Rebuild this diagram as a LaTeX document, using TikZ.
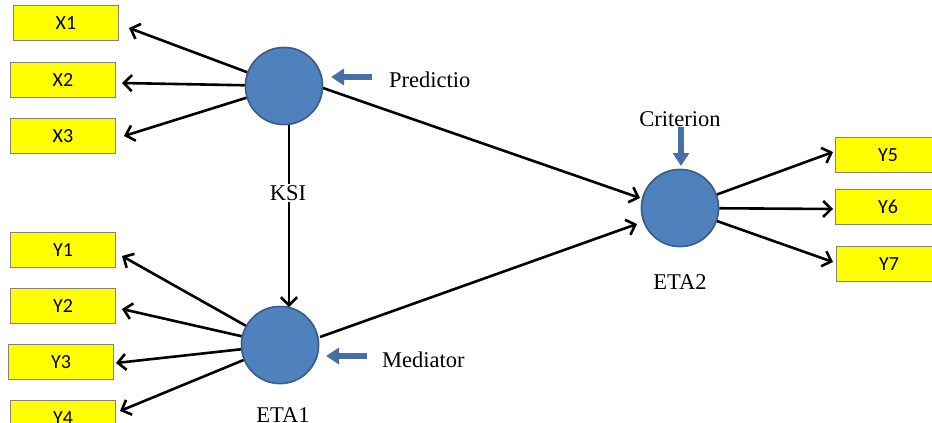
\documentclass[tikz,border=0pt]{standalone}
\usepackage{fontspec}
\setmainfont{Liberation Serif}
\newfontfamily\boxfont{Carlito}
\usetikzlibrary{arrows.meta}
\definecolor{boxyellow}{RGB}{255,255,0}
\definecolor{boxedge}{RGB}{130,130,120}
\definecolor{latfill}{RGB}{79,129,189}
\definecolor{latedge}{RGB}{56,93,138}
\definecolor{blockblue}{RGB}{70,112,165}
\tikzset{
  ind/.style={draw=boxedge, line width=1.2pt, fill=boxyellow, minimum width=105pt, minimum height=35pt, inner sep=0pt, font=\boxfont\fontsize{20}{20}\selectfont},
  lat/.style={circle, draw=latedge, line width=1.5pt, fill=latfill, minimum size=77pt, inner sep=0pt},
  lbl/.style={font=\fontsize{22.5}{22.5}\selectfont, inner sep=1pt},
  conn/.style={line width=2.6pt, -{Straight Barb[length=8pt, width=16pt, line width=2.6pt]}},
  blockarr/.style={draw=blockblue, line width=6pt, -{Triangle[length=13pt, width=16pt]}}
}
\begin{document}
\begin{tikzpicture}[x=1pt, y=-1pt]
\useasboundingbox (0,0) rectangle (932,423);
\clip (0,0) rectangle (932,423);
\fill[white] (0,0) rectangle (932,423);
% indicator boxes
\node[ind] (x1) at (66,23) {X1};
\node[ind] (x2) at (63,80) {X2};
\node[ind] (x3) at (63,136) {X3};
\node[ind] (y1) at (63,250) {Y1};
\node[ind] (y2) at (63,306) {Y2};
\node[ind] (y3) at (61,362) {Y3};
\node[ind] (y4) at (63,418) {Y4};
\node[ind] (y5) at (888,155) {Y5};
\node[ind] (y6) at (888,207) {Y6};
\node[ind] (y7) at (889,264) {Y7};
% latent variables
\node[lat] (ksi) at (284,86) {};
\node[lat] (eta1) at (280,345) {};
\node[lat] (eta2) at (680,208) {};
% arrow tips
\coordinate (tx1) at (129,28);
\coordinate (tx2) at (122,83);
\coordinate (tx3) at (124,136);
\coordinate (ty1) at (122,256);
\coordinate (ty2) at (122,309);
\coordinate (ty3) at (116,363);
\coordinate (ty4) at (120,411);
\coordinate (ty5) at (833,152);
\coordinate (ty6) at (833,209);
\coordinate (ty7) at (833,262);
\coordinate (ksiout) at (323,88);
\coordinate (eta1out) at (320,337);
\coordinate (tksi) at (640,198);
\coordinate (teta1) at (637,224);
\coordinate (ksibot) at (289,123);
\coordinate (teta1top) at (289,307);
% connectors
\draw[conn] (ksi) -- (tx1);
\draw[conn] (ksi) -- (tx2);
\draw[conn] (ksi) -- (tx3);
\draw[conn] (eta1) -- (ty1);
\draw[conn] (eta1) -- (ty2);
\draw[conn] (eta1) -- (ty3);
\draw[conn] (eta1) -- (ty4);
\draw[conn] (eta2) -- (ty5);
\draw[conn] (eta2) -- (ty6);
\draw[conn] (eta2) -- (ty7);
\draw[conn] (ksiout) -- (tksi);
\draw[conn] (eta1out) -- (teta1);
\draw[conn] (ksibot) -- (teta1top);
% redraw circles on top
\node[lat] at (ksi) {};
\node[lat] at (eta1) {};
\node[lat] at (eta2) {};
% block arrows
\coordinate (pa0) at (372,77);
\coordinate (pa1) at (331,77);
\coordinate (ma0) at (367,356);
\coordinate (ma1) at (326,356);
\coordinate (ca0) at (681,127);
\coordinate (ca1) at (681,166);
\draw[blockarr] (pa0) -- (pa1);
\draw[blockarr] (ma0) -- (ma1);
\draw[blockarr] (ca0) -- (ca1);
% labels
\node[lbl, anchor=west] (lpred) at (388,80) {Predictio};
\node[lbl, anchor=west] (lmed) at (381,360) {Mediator};
\node[lbl] (lcrit) at (680,119) {Criterion};
\node[lbl, fill=white] (lksi) at (288,193) {KSI};
\node[lbl] (leta1) at (283,415) {ETA1};
\node[lbl] (leta2) at (680,282) {ETA2};
\end{tikzpicture}
\end{document}
